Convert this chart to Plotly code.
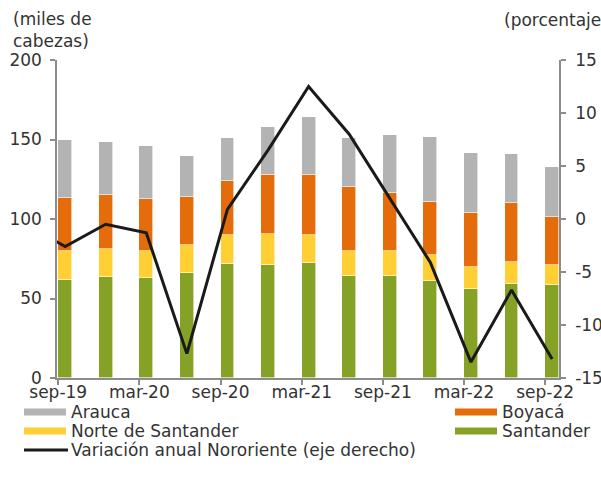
import plotly.graph_objects as go

# ---------------- data ----------------
periods = ["jun-19", "sep-19", "dic-19", "mar-20", "jun-20", "sep-20", "dic-20",
           "mar-21", "jun-21", "sep-21", "dic-21", "mar-22", "jun-22", "sep-22"]
bar_periods = periods[1:]

santander = [61.4, 63.5, 62.9, 66.0, 71.9, 70.8, 72.5, 64.1, 64.1, 61.0, 56.2, 59.4, 58.3]
norte = [18.4, 17.7, 16.9, 17.7, 18.3, 20.0, 17.5, 15.5, 15.5, 16.3, 13.6, 13.5, 12.5]
boyaca = [33.7, 33.8, 32.7, 30.4, 33.8, 36.9, 37.7, 40.8, 37.0, 33.5, 33.7, 36.9, 30.2]
arauca = [36.5, 33.5, 33.5, 25.7, 27.0, 30.4, 36.7, 30.4, 36.5, 40.8, 38.1, 31.2, 31.9]
# annual variation (right axis), first value (jun-19) lies outside the visible range
variacion = [-0.4, -2.6, -0.5, -1.3, -12.7, 0.9, 6.5, 12.5, 8.0, 1.9, -4.1, -13.5, -6.7, -13.2]

x_tick_labels = ["sep-19", "mar-20", "sep-20", "mar-21", "sep-21", "mar-22", "sep-22"]
left_ticks = [0, 50, 100, 150, 200]
right_ticks = [-15, -10, -5, 0, 5, 10, 15]
right_tick_labels = ["-15", "-10", "-5", "0", "5", "10", "15"]

series = [
    ("Santander", santander, "#85A126"),
    ("Norte de Santander", norte, "#FFCF33"),
    ("Boyacá", boyaca, "#E46C0A"),
    ("Arauca", arauca, "#B3B3B3"),
]

# ---------------- geometry ----------------
W, H = 601, 477
L, R, T, B = 57, 559, 60, 378
FONT = "DejaVu Sans"
FS = 17
TXT = "#333333"
AX = "#8C8C8C"


def fx(p):
    return (p - L) / (R - L)


def fy(p):
    return (B - p) / (B - T)


x_all = list(range(len(periods)))
x_bar = x_all[1:]
bar_w = 0.34

fig = go.Figure()
for name, vals, col in series:
    fig.add_trace(go.Bar(x=x_bar, y=vals, name=name, width=bar_w,
                         marker=dict(color=col, line=dict(color="white", width=0.6)),
                         showlegend=False))

fig.add_trace(go.Scatter(x=x_all, y=variacion, yaxis="y2", mode="lines",
                         name="Variación anual Nororiente (eje derecho)",
                         line=dict(color="#1A1A1A", width=3), showlegend=False))

tick_pos = [periods.index(t) - 0.17 for t in x_tick_labels]

axis_common = dict(showgrid=False, zeroline=False, showline=True, linecolor=AX, linewidth=1.5,
                   ticks="outside", ticklen=5, tickcolor=AX, tickwidth=1.5, automargin=False,
                   tickfont=dict(family=FONT, size=FS, color=TXT))

fig.update_layout(
    template="none",
    width=W, height=H,
    margin=dict(l=L, r=W - R, t=T, b=H - B, pad=0),
    paper_bgcolor="white", plot_bgcolor="white",
    barmode="stack", bargap=0,
    font=dict(family=FONT, size=FS, color=TXT),
    showlegend=False,
    xaxis=dict(range=[0.8, 13.17], tickmode="array", tickvals=tick_pos, ticktext=x_tick_labels,
               ticklabelstandoff=-7, **axis_common),
    yaxis=dict(range=[0, 200], tickmode="array", tickvals=left_ticks,
               ticktext=[str(v) for v in left_ticks], ticklabelstandoff=5, **axis_common),
    yaxis2=dict(range=[-15, 15], overlaying="y", side="right", tickmode="array",
                tickvals=right_ticks, ticktext=right_tick_labels, ticklabelstandoff=6,
                **axis_common),
)

annotations = [
    dict(text="(miles de<br>cabezas)", x=fx(11), y=fy(7), xanchor="left", yanchor="top",
         align="left", showarrow=False, xref="paper", yref="paper",
         font=dict(family=FONT, size=FS, color=TXT)),
    dict(text="(porcentaje)", x=fx(502), y=fy(8), xanchor="left", yanchor="top",
         showarrow=False, xref="paper", yref="paper",
         font=dict(family=FONT, size=FS, color=TXT)),
]

# manual legend (wide swatches like the original)
legend_items = [
    ("Arauca", "#B3B3B3", 24, 412, "bar"),
    ("Boyacá", "#E46C0A", 455, 412, "bar"),
    ("Norte de Santander", "#FFCF33", 24, 431, "bar"),
    ("Santander", "#85A126", 455, 431, "bar"),
    ("Variación anual Nororiente (eje derecho)", "#1A1A1A", 24, 450, "line"),
]
shapes = []
for name, col, x0, yc, kind in legend_items:
    if kind == "bar":
        shapes.append(dict(type="rect", xref="paper", yref="paper",
                           x0=fx(x0), x1=fx(x0 + 42), y0=fy(yc + 3.5), y1=fy(yc - 3.5),
                           fillcolor=col, line=dict(width=0)))
    else:
        shapes.append(dict(type="line", xref="paper", yref="paper",
                           x0=fx(x0), x1=fx(x0 + 44), y0=fy(yc), y1=fy(yc),
                           line=dict(color=col, width=3)))
    annotations.append(dict(text=name, x=fx(x0 + 45), y=fy(yc), xanchor="left", yanchor="middle",
                            showarrow=False, xref="paper", yref="paper",
                            font=dict(family=FONT, size=FS, color=TXT)))

fig.update_layout(annotations=annotations, shapes=shapes)

# remove the default 8px page margin so the figure fills the window exactly
fig.write_html("out.html", config={"displayModeBar": False},
               post_script="document.body.style.margin='0px';document.body.style.overflow='hidden';")
